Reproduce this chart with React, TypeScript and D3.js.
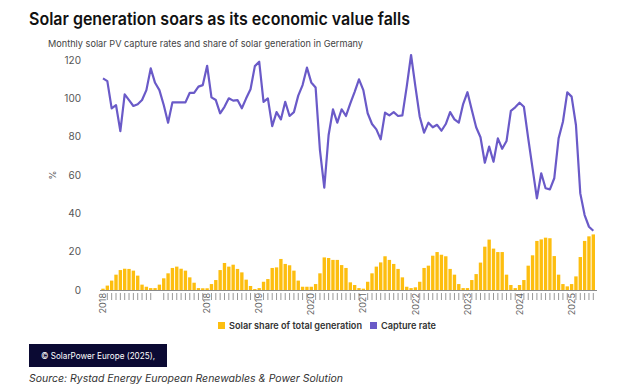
import * as d3 from 'd3';

// monthly categories, Jan 2016 .. Jun 2025
const months = d3.timeMonth.range(new Date(2016, 0, 1), new Date(2025, 6, 1));

// one label per year (as printed on the source chart; 2017 is blank there)
const yearLabels = ['2018', '', '2018', '2019', '2020', '2021', '2022', '2023', '2024', '2025'];

const yTicks = [0, 20, 40, 60, 80, 100, 120];

// solar share of total generation, %
const solarShare = [
  0.7, 2.3, 4.9, 8.0, 10.4, 11.1, 11.0, 10.1, 7.5, 2.8, 1.7, 1.0,
  1.0, 2.8, 6.1, 8.7, 11.5, 12.2, 11.1, 10.1, 6.6, 3.8, 1.0, 0.9,
  0.9, 3.1, 5.2, 10.4, 14.1, 12.2, 13.2, 11.0, 9.2, 5.4, 2.1, 0.5,
  1.0, 4.3, 5.7, 11.5, 11.8, 16.2, 13.6, 12.9, 10.1, 4.9, 1.7, 1.7,
  1.7, 3.1, 8.7, 17.0, 16.7, 15.7, 15.7, 13.0, 11.5, 4.0, 2.6, 1.0,
  0.7, 4.3, 8.7, 12.2, 14.4, 17.6, 15.7, 13.6, 11.0, 6.6, 1.7, 1.0,
  1.4, 4.3, 11.5, 12.7, 17.9, 19.8, 18.4, 17.6, 11.0, 8.0, 3.1, 1.0,
  1.0, 5.2, 8.3, 14.3, 22.6, 26.3, 21.6, 19.8, 19.8, 8.0, 2.6, 1.0,
  2.6, 5.2, 12.7, 18.1, 25.6, 26.4, 27.3, 27.0, 17.7, 8.0, 3.1, 1.9,
  3.1, 7.1, 17.2, 25.6, 28.0, 29.0,
];

// solar PV capture rate, %
const captureRate = [
  110.4, 109.0, 94.8, 96.5, 82.9, 102.1, 99.1, 96.0, 96.9, 99.1, 104.3, 115.6,
  108.1, 104.3, 96.5, 87.3, 97.9, 97.9, 97.9, 97.9, 102.9, 102.9, 106.1, 106.9,
  117.0, 100.5, 99.1, 92.2, 95.6, 100.0, 98.8, 99.1, 94.8, 100.0, 104.7, 116.8,
  119.1, 98.2, 100.0, 85.5, 92.8, 89.0, 98.2, 90.8, 92.8, 101.4, 106.9, 116.0,
  108.3, 105.7, 73.0, 53.4, 80.9, 94.2, 87.3, 94.3, 90.8, 97.4, 103.4, 109.9,
  104.3, 92.2, 86.6, 83.8, 78.6, 92.5, 91.1, 92.8, 90.8, 91.1, 106.1, 122.6,
  106.1, 90.4, 82.1, 87.3, 84.9, 86.2, 83.1, 86.6, 92.8, 89.0, 87.3, 97.0,
  103.2, 93.9, 84.9, 79.7, 66.4, 74.8, 66.9, 79.1, 73.7, 77.7, 93.5, 95.3,
  97.7, 95.6, 79.1, 63.5, 47.8, 60.9, 53.1, 52.5, 58.3, 79.1, 87.8, 103.1,
  100.9, 86.1, 50.4, 39.1, 33.0, 30.9,
];

const legendItems = ['Solar share of total generation', 'Capture rate'];

const W = 636;
const H = 392;
const FONT = 'Inter, "Noto Sans", sans-serif';
const YELLOW = '#FDBE0F';
const PURPLE = '#6A5AC8';

export default function App() {
  const x = d3
    .scaleBand<number>()
    .domain(d3.range(months.length))
    .range([101.3, 595])
    .paddingInner(0.22);
  const y = d3.scaleLinear().domain([0, 120]).range([290, 60]);
  const cx = (i: number) => (x(i) ?? 0) + x.bandwidth() / 2;

  const line = d3
    .line<number>()
    .x((_, i) => cx(i))
    .y((d) => y(d));

  const startYear = months[0].getFullYear();
  const colors = [YELLOW, PURPLE];

  return (
    <svg
      width={W}
      height={H}
      style={{ position: 'absolute', left: 0, top: 0, background: '#fff' }}
      fontFamily={FONT}
    >
      <text x={29} y={25} fontSize={17} fontWeight={600} fill="#111" textLength={381} lengthAdjust="spacingAndGlyphs">
        Solar generation soars as its economic value falls
      </text>
      <text x={48} y={47} fontSize={9.5} fill="#444" textLength={315} lengthAdjust="spacingAndGlyphs">
        Monthly solar PV capture rates and share of solar generation in Germany
      </text>

      {/* y axis labels */}
      {yTicks.map((t) => (
        <text key={t} x={81} y={y(t)} dy="0.35em" textAnchor="end" fontSize={10} fill="#555">
          {t}
        </text>
      ))}
      <text transform={`translate(53,${y(60)}) rotate(-90)`} textAnchor="middle" dy="0.35em" fontSize={9} fill="#555">
        %
      </text>

      {/* bars */}
      {solarShare.map((v, i) => (
        <rect key={i} x={x(i)} y={y(v)} width={x.bandwidth()} height={y(0) - y(v)} fill={YELLOW} />
      ))}

      {/* baseline */}
      <line x1={100} x2={597} y1={y(0) + 0.5} y2={y(0) + 0.5} stroke="#8a8a8a" strokeWidth={1} />

      {/* month ticks and year labels */}
      {months.map((m, i) => {
        const yr = m.getFullYear() - startYear;
        const label = m.getMonth() === 0 ? yearLabels[yr] : null;
        if (yearLabels[yr] === '' && m.getMonth() < 2) return null;
        if (label) {
          return (
            <text
              key={i}
              transform={`translate(${cx(i)},293) rotate(-90)`}
              textAnchor="end"
              dy="0.35em"
              fontSize={9}
              fill="#666"
            >
              {label}
            </text>
          );
        }
        return <line key={i} x1={cx(i)} x2={cx(i)} y1={293} y2={300} stroke="#999" strokeWidth={1} />;
      })}

      {/* capture rate line */}
      <path d={line(captureRate) ?? ''} fill="none" stroke={PURPLE} strokeWidth={2.2} strokeLinejoin="round" />

      {/* legend */}
      <g>
        <rect x={218} y={322} width={7} height={7} fill={colors[0]} />
        <text x={229} y={329} fontSize={9.5} fontWeight={600} fill="#333" textLength={133} lengthAdjust="spacingAndGlyphs">
          {legendItems[0]}
        </text>
        <rect x={370} y={322} width={7} height={7} fill={colors[1]} />
        <text x={381} y={329} fontSize={9.5} fontWeight={600} fill="#333" textLength={55} lengthAdjust="spacingAndGlyphs">
          {legendItems[1]}
        </text>
      </g>

      {/* footer */}
      <rect x={29} y={344} width={138} height={23} fill="#0b0a33" />
      <text x={41} y={359} fontSize={8.5} fill="#fff" textLength={114} lengthAdjust="spacingAndGlyphs">
        © SolarPower Europe (2025),
      </text>
      <text x={29} y={382} fontSize={10.5} fontStyle="italic" fill="#333" textLength={314} lengthAdjust="spacingAndGlyphs">
        Source: Rystad Energy European Renewables &amp; Power Solution
      </text>
    </svg>
  );
}
